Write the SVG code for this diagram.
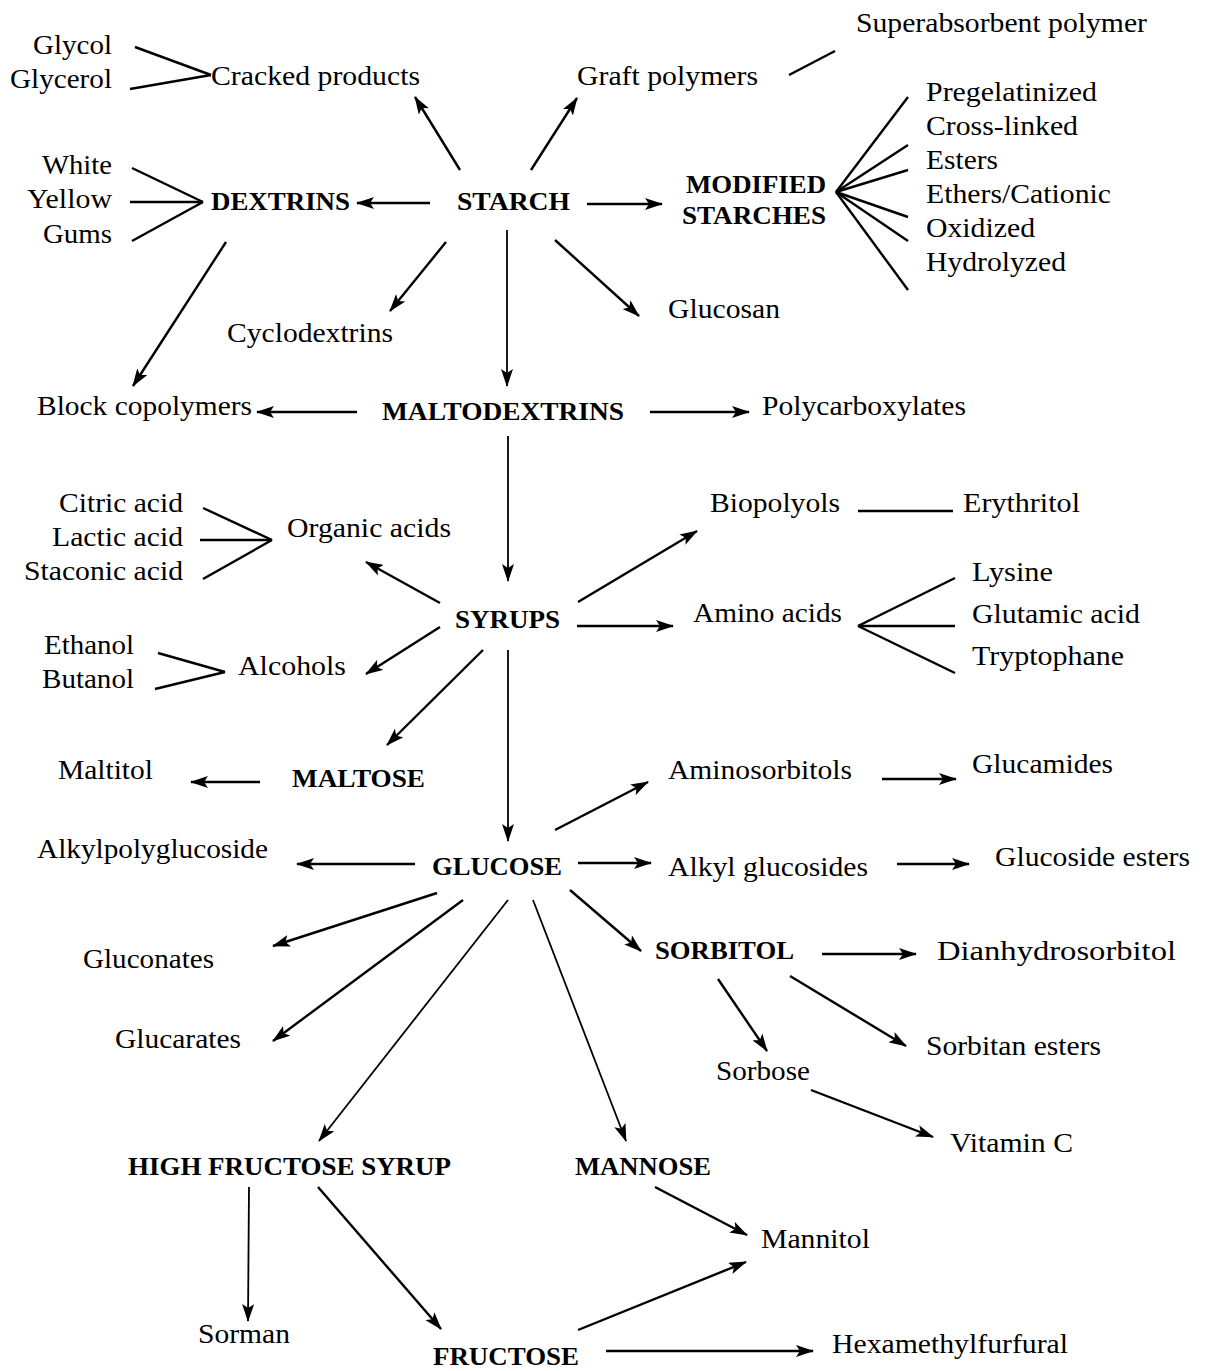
<svg xmlns="http://www.w3.org/2000/svg" width="1210" height="1371" viewBox="0 0 1210 1371" font-family="Liberation Serif">
<style>
text{font-family:'Liberation Serif',serif;fill:#000}
.r{font-size:28px}
.b{font-size:25px;font-weight:bold}
.c line{stroke:#000;stroke-width:2.4;fill:none}
.c .a{marker-end:url(#ah)}
.c .t{stroke-width:1.8}
</style>
<defs>
<marker id="ah" markerUnits="userSpaceOnUse" markerWidth="18" markerHeight="12" refX="17" refY="6" orient="auto">
<path d="M0,0 L18,6 L0,12 L4,6 Z" fill="#000"/>
</marker>
</defs>
<rect width="1210" height="1371" fill="#fff"/>
<g class="c" id="connectors">
<line x1="135" y1="47" x2="211" y2="75"/>
<line x1="130" y1="89" x2="211" y2="75"/>
<line class="a" x1="460" y1="170" x2="415" y2="97"/>
<line class="a" x1="531" y1="170" x2="577" y2="98"/>
<line x1="789" y1="75" x2="835" y2="51"/>
<line x1="132" y1="168" x2="203" y2="202"/>
<line x1="130" y1="202" x2="203" y2="202"/>
<line x1="132" y1="241" x2="203" y2="202"/>
<line class="a" x1="430" y1="203" x2="357" y2="203"/>
<line class="a" x1="587" y1="204" x2="662" y2="204"/>
<line x1="836" y1="192" x2="908" y2="97"/>
<line x1="836" y1="192" x2="908" y2="145"/>
<line x1="836" y1="192" x2="908" y2="170"/>
<line x1="836" y1="192" x2="908" y2="217"/>
<line x1="836" y1="192" x2="908" y2="241"/>
<line x1="836" y1="192" x2="908" y2="290"/>
<line class="a" x1="446" y1="242" x2="390" y2="311"/>
<line class="a" x1="555" y1="240" x2="639" y2="316"/>
<line class="a t" x1="507" y1="230" x2="507" y2="386"/>
<line class="a" x1="226" y1="242" x2="133" y2="386"/>
<line class="a" x1="357" y1="412" x2="257" y2="412"/>
<line class="a" x1="650" y1="412" x2="749" y2="412"/>
<line class="a t" x1="508" y1="436" x2="508" y2="581"/>
<line x1="203" y1="508" x2="272" y2="540"/>
<line x1="200" y1="540" x2="272" y2="540"/>
<line x1="203" y1="579" x2="272" y2="540"/>
<line class="a" x1="440" y1="603" x2="366" y2="562"/>
<line class="a" x1="440" y1="627" x2="366" y2="674"/>
<line x1="158" y1="653" x2="225" y2="672"/>
<line x1="155" y1="689" x2="225" y2="672"/>
<line class="a" x1="578" y1="602" x2="697" y2="531"/>
<line x1="858" y1="511" x2="953" y2="511"/>
<line class="a" x1="577" y1="626" x2="673" y2="626"/>
<line x1="858" y1="626" x2="955" y2="578"/>
<line x1="858" y1="626" x2="955" y2="626"/>
<line x1="858" y1="626" x2="955" y2="673"/>
<line class="a" x1="483" y1="650" x2="387" y2="745"/>
<line class="a t" x1="508" y1="650" x2="508" y2="841"/>
<line class="a" x1="260" y1="782" x2="191" y2="782"/>
<line class="a" x1="555" y1="830" x2="648" y2="782"/>
<line class="a" x1="882" y1="779" x2="956" y2="779"/>
<line class="a" x1="415" y1="864" x2="297" y2="864"/>
<line class="a" x1="578" y1="863" x2="651" y2="863"/>
<line class="a" x1="897" y1="864" x2="969" y2="864"/>
<line class="a" x1="437" y1="893" x2="273" y2="946"/>
<line class="a" x1="463" y1="900" x2="273" y2="1041"/>
<line class="a t" x1="508" y1="900" x2="319" y2="1141"/>
<line class="a t" x1="533" y1="900" x2="626" y2="1141"/>
<line class="a" x1="570" y1="890" x2="641" y2="951"/>
<line class="a" x1="822" y1="954" x2="916" y2="954"/>
<line class="a" x1="718" y1="979" x2="767" y2="1051"/>
<line class="a" x1="790" y1="976" x2="906" y2="1046"/>
<line class="a" x1="811" y1="1090" x2="933" y2="1137"/>
<line class="a t" x1="249" y1="1187" x2="248" y2="1321"/>
<line class="a" x1="318" y1="1187" x2="441" y2="1329"/>
<line class="a" x1="655" y1="1187" x2="747" y2="1235"/>
<line class="a" x1="578" y1="1330" x2="746" y2="1262"/>
<line class="a" x1="606" y1="1351" x2="813" y2="1351"/>
</g>
<g id="n-glycol"><text class="r" x="33" y="54" textLength="79" lengthAdjust="spacingAndGlyphs">Glycol</text></g>
<g id="n-glycerol"><text class="r" x="10" y="88" textLength="102" lengthAdjust="spacingAndGlyphs">Glycerol</text></g>
<g id="n-cracked"><text class="r" x="211" y="85" textLength="209" lengthAdjust="spacingAndGlyphs">Cracked products</text></g>
<g id="n-graft"><text class="r" x="577" y="85" textLength="181" lengthAdjust="spacingAndGlyphs">Graft polymers</text></g>
<g id="n-superabsorbent"><text class="r" x="856" y="32" textLength="291" lengthAdjust="spacingAndGlyphs">Superabsorbent polymer</text></g>
<g id="n-white"><text class="r" x="42" y="174" textLength="70" lengthAdjust="spacingAndGlyphs">White</text></g>
<g id="n-yellow"><text class="r" x="27" y="208" textLength="85" lengthAdjust="spacingAndGlyphs">Yellow</text></g>
<g id="n-gums"><text class="r" x="43" y="243" textLength="69" lengthAdjust="spacingAndGlyphs">Gums</text></g>
<g id="n-dextrins"><text class="b" x="211" y="210" textLength="139" lengthAdjust="spacingAndGlyphs">DEXTRINS</text></g>
<g id="n-starch"><text class="b" x="457" y="210" textLength="113" lengthAdjust="spacingAndGlyphs">STARCH</text></g>
<g id="n-modified"><text class="b" x="686" y="193" textLength="140" lengthAdjust="spacingAndGlyphs">MODIFIED</text><text class="b" x="682" y="224" textLength="144" lengthAdjust="spacingAndGlyphs">STARCHES</text></g>
<g id="n-pregel"><text class="r" x="926" y="101" textLength="171" lengthAdjust="spacingAndGlyphs">Pregelatinized</text></g>
<g id="n-crosslinked"><text class="r" x="926" y="135" textLength="152" lengthAdjust="spacingAndGlyphs">Cross-linked</text></g>
<g id="n-esters"><text class="r" x="926" y="169" textLength="72" lengthAdjust="spacingAndGlyphs">Esters</text></g>
<g id="n-ethers"><text class="r" x="926" y="203" textLength="185" lengthAdjust="spacingAndGlyphs">Ethers/Cationic</text></g>
<g id="n-oxidized"><text class="r" x="926" y="237" textLength="109" lengthAdjust="spacingAndGlyphs">Oxidized</text></g>
<g id="n-hydrolyzed"><text class="r" x="926" y="271" textLength="140" lengthAdjust="spacingAndGlyphs">Hydrolyzed</text></g>
<g id="n-glucosan"><text class="r" x="668" y="318" textLength="112" lengthAdjust="spacingAndGlyphs">Glucosan</text></g>
<g id="n-cyclodextrins"><text class="r" x="227" y="342" textLength="166" lengthAdjust="spacingAndGlyphs">Cyclodextrins</text></g>
<g id="n-block"><text class="r" x="37" y="415" textLength="215" lengthAdjust="spacingAndGlyphs">Block copolymers</text></g>
<g id="n-maltodextrins"><text class="b" x="382" y="420" textLength="242" lengthAdjust="spacingAndGlyphs">MALTODEXTRINS</text></g>
<g id="n-polycarboxylates"><text class="r" x="762" y="415" textLength="204" lengthAdjust="spacingAndGlyphs">Polycarboxylates</text></g>
<g id="n-citric"><text class="r" x="59" y="512" textLength="124" lengthAdjust="spacingAndGlyphs">Citric acid</text></g>
<g id="n-lactic"><text class="r" x="52" y="546" textLength="131" lengthAdjust="spacingAndGlyphs">Lactic acid</text></g>
<g id="n-staconic"><text class="r" x="24" y="580" textLength="159" lengthAdjust="spacingAndGlyphs">Staconic acid</text></g>
<g id="n-organic"><text class="r" x="287" y="537" textLength="164" lengthAdjust="spacingAndGlyphs">Organic acids</text></g>
<g id="n-biopolyols"><text class="r" x="710" y="512" textLength="130" lengthAdjust="spacingAndGlyphs">Biopolyols</text></g>
<g id="n-erythritol"><text class="r" x="963" y="512" textLength="117" lengthAdjust="spacingAndGlyphs">Erythritol</text></g>
<g id="n-lysine"><text class="r" x="972" y="581" textLength="81" lengthAdjust="spacingAndGlyphs">Lysine</text></g>
<g id="n-glutamic"><text class="r" x="972" y="623" textLength="168" lengthAdjust="spacingAndGlyphs">Glutamic acid</text></g>
<g id="n-tryptophane"><text class="r" x="972" y="665" textLength="152" lengthAdjust="spacingAndGlyphs">Tryptophane</text></g>
<g id="n-syrups"><text class="b" x="455" y="628" textLength="105" lengthAdjust="spacingAndGlyphs">SYRUPS</text></g>
<g id="n-amino"><text class="r" x="693" y="622" textLength="149" lengthAdjust="spacingAndGlyphs">Amino acids</text></g>
<g id="n-ethanol"><text class="r" x="44" y="654" textLength="90" lengthAdjust="spacingAndGlyphs">Ethanol</text></g>
<g id="n-butanol"><text class="r" x="42" y="688" textLength="92" lengthAdjust="spacingAndGlyphs">Butanol</text></g>
<g id="n-alcohols"><text class="r" x="238" y="675" textLength="108" lengthAdjust="spacingAndGlyphs">Alcohols</text></g>
<g id="n-maltitol"><text class="r" x="58" y="779" textLength="95" lengthAdjust="spacingAndGlyphs">Maltitol</text></g>
<g id="n-maltose"><text class="b" x="292" y="787" textLength="133" lengthAdjust="spacingAndGlyphs">MALTOSE</text></g>
<g id="n-aminosorbitols"><text class="r" x="668" y="779" textLength="184" lengthAdjust="spacingAndGlyphs">Aminosorbitols</text></g>
<g id="n-glucamides"><text class="r" x="972" y="773" textLength="141" lengthAdjust="spacingAndGlyphs">Glucamides</text></g>
<g id="n-alkylpoly"><text class="r" x="37" y="858" textLength="231" lengthAdjust="spacingAndGlyphs">Alkylpolyglucoside</text></g>
<g id="n-glucose"><text class="b" x="432" y="875" textLength="130" lengthAdjust="spacingAndGlyphs">GLUCOSE</text></g>
<g id="n-alkylglucosides"><text class="r" x="668" y="876" textLength="200" lengthAdjust="spacingAndGlyphs">Alkyl glucosides</text></g>
<g id="n-glucosideesters"><text class="r" x="995" y="866" textLength="195" lengthAdjust="spacingAndGlyphs">Glucoside esters</text></g>
<g id="n-gluconates"><text class="r" x="83" y="968" textLength="131" lengthAdjust="spacingAndGlyphs">Gluconates</text></g>
<g id="n-sorbitol"><text class="b" x="655" y="959" textLength="139" lengthAdjust="spacingAndGlyphs">SORBITOL</text></g>
<g id="n-dianhydro"><text class="r" x="937" y="960" textLength="239" lengthAdjust="spacingAndGlyphs">Dianhydrosorbitol</text></g>
<g id="n-glucarates"><text class="r" x="115" y="1048" textLength="126" lengthAdjust="spacingAndGlyphs">Glucarates</text></g>
<g id="n-sorbitan"><text class="r" x="926" y="1055" textLength="175" lengthAdjust="spacingAndGlyphs">Sorbitan esters</text></g>
<g id="n-sorbose"><text class="r" x="716" y="1080" textLength="94" lengthAdjust="spacingAndGlyphs">Sorbose</text></g>
<g id="n-vitaminc"><text class="r" x="950" y="1152" textLength="123" lengthAdjust="spacingAndGlyphs">Vitamin C</text></g>
<g id="n-hfs"><text class="b" x="128" y="1175" textLength="323" lengthAdjust="spacingAndGlyphs">HIGH FRUCTOSE SYRUP</text></g>
<g id="n-mannose"><text class="b" x="575" y="1175" textLength="136" lengthAdjust="spacingAndGlyphs">MANNOSE</text></g>
<g id="n-mannitol"><text class="r" x="761" y="1248" textLength="109" lengthAdjust="spacingAndGlyphs">Mannitol</text></g>
<g id="n-sorman"><text class="r" x="198" y="1343" textLength="92" lengthAdjust="spacingAndGlyphs">Sorman</text></g>
<g id="n-fructose"><text class="b" x="433" y="1365" textLength="146" lengthAdjust="spacingAndGlyphs">FRUCTOSE</text></g>
<g id="n-hmf"><text class="r" x="832" y="1353" textLength="236" lengthAdjust="spacingAndGlyphs">Hexamethylfurfural</text></g>
</svg>
